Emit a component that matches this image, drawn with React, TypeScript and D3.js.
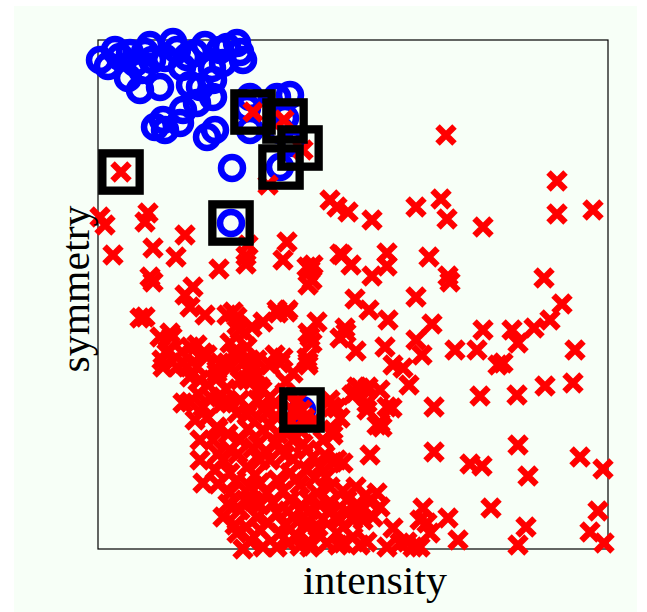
import React from "react";
import * as d3 from "d3";

// Axis domains (intensity → x, symmetry → y), arbitrary units
const intensityDomain: [number, number] = [0, 51];
const symmetryDomain: [number, number] = [0, 50.9];

const xLabel = "intensity";
const yLabel = "symmetry";

// Digit "1" samples (blue circles): [intensity, symmetry]
const onePoints: [number, number][] = [
  [0.2, 48.9], [1.0, 48.3], [2.2, 49.2], [3.2, 49.6], [3.7, 48.6], [3.0, 47.1], [4.2, 45.9],
  [4.7, 49.7], [5.4, 48.9], [6.2, 46.2], [7.5, 50.7], [7.9, 49.9], [6.7, 49.1], [8.9, 49.2],
  [9.7, 49.6], [8.4, 48.2], [9.2, 46.4], [10.2, 46.2], [11.5, 45.2], [11.5, 46.9], [11.4, 48.1],
  [12.2, 49.9], [13.9, 50.6], [12.9, 50.2], [14.5, 48.9], [12.5, 48.6], [8.5, 43.9], [5.7, 42.2],
  [6.7, 41.9], [8.2, 42.6], [10.9, 41.2], [11.7, 41.9], [9.9, 44.6], [6.5, 42.9], [15.2, 45.2],
  [17.9, 45.2], [19.2, 45.4], [15.2, 41.9], [18.2, 41.9], [19.5, 40.6], [18.2, 38.2], [13.4, 38.1],
  [13.3, 32.6], [20.4, 13.9], [14.9, 44.1], [18.7, 43.1], [1.7, 49.9], [5.2, 50.4], [10.7, 50.4],
  [14.2, 49.7], [4.4, 47.9],
];

// Other digits (red crosses): [intensity, symmetry]
const otherPoints: [number, number][] = [
  // upper right
  [34.8, 41.4], [45.9, 36.8], [45.9, 33.5], [49.5, 33.9], [23.2, 34.9], [25.0, 33.7], [27.4, 32.9],
  [31.8, 34.2], [34.3, 35.0], [34.9, 33.0], [38.5, 32.2], [24.2, 29.5], [25.3, 28.4], [28.9, 29.6],
  [28.9, 28.3], [27.4, 27.3], [33.1, 29.2], [35.0, 27.3], [35.2, 26.7], [44.6, 27.1], [46.4, 24.5],
  [25.7, 25.0], [27.1, 23.9], [29.0, 22.9], [31.8, 25.2], [33.4, 22.5], [24.7, 22.1], [38.5, 21.9],
  [41.4, 21.9], [43.6, 22.1], [45.2, 22.9],
  // lower right
  [24.8, 21.6], [25.8, 19.8], [28.7, 20.2], [31.8, 20.9], [32.4, 19.4], [29.5, 18.4], [30.5, 18.1],
  [31.1, 16.4], [35.7, 19.9], [37.9, 19.9], [42.0, 20.6], [40.0, 18.4], [40.5, 18.6], [47.7, 19.9],
  [47.5, 16.6], [44.7, 16.3], [41.9, 15.4], [38.2, 15.3], [33.6, 14.2], [29.4, 14.1], [26.9, 15.9],
  [25.7, 15.6], [23.9, 14.1], [26.9, 13.9], [28.4, 12.2], [23.5, 11.4], [27.2, 9.4], [24.5, 8.6],
  [33.6, 9.7], [37.2, 8.5], [38.4, 8.3], [42.0, 10.4], [43.0, 7.3], [48.2, 9.2], [50.5, 8.0],
  [39.3, 4.1], [42.8, 2.2], [42.0, 0.4], [50.0, 3.8], [49.2, 1.7], [50.6, 0.6], [27.9, 5.6],
  [27.2, 4.7], [25.9, 4.2], [25.0, 3.7], [26.5, 2.9], [32.5, 4.1], [32.2, 2.9], [35.0, 3.1],
  [36.0, 0.9], [33.2, 1.6], [30.9, 0.7], [29.5, 2.1], [28.9, 0.2], [32.2, 0.2], [26.9, 0.7],
  [24.5, 0.6], [23.7, 3.1], [32.9, 2.6], [30.2, 0.6], [31.5, 0.2], [21.2, 0.6], [23.2, 4.7],
  [25.7, 3.4], [23.5, 8.7],
  // middle
  [18.9, 30.7], [18.5, 28.9], [20.9, 28.2], [21.4, 26.9], [21.5, 28.4], [24.4, 29.4], [18.9, 23.7],
  [21.9, 22.7], [21.2, 21.2], [21.0, 18.7], [18.5, 19.1], [25.9, 16.2], [27.0, 16.2], [25.4, 15.4],
  [23.2, 14.9], [28.2, 12.6],
  // left
  [0.2, 33.2], [0.7, 32.4], [5.0, 33.6], [4.7, 32.7], [1.5, 29.4], [5.5, 30.1], [8.7, 31.4],
  [7.8, 29.2], [5.2, 27.2], [12.1, 28.0], [15.0, 30.4], [14.8, 29.3], [14.8, 28.5], [21.2, 27.9],
  [21.0, 26.4], [23.9, 34.2], [9.5, 26.2], [8.7, 25.4], [9.2, 24.2], [10.7, 23.4], [4.2, 23.1],
  [13.5, 23.7], [12.9, 23.4], [13.9, 22.4], [14.7, 21.6], [16.5, 22.7], [18.0, 23.6], [19.0, 23.9],
  [21.0, 21.6], [20.9, 19.1], [21.4, 20.6], [6.2, 21.2], [7.2, 21.6], [6.9, 19.6], [8.4, 19.7],
  [9.2, 20.2], [10.5, 19.6], [9.9, 18.2], [6.5, 18.2], [7.9, 18.2], [13.2, 20.6], [13.5, 19.6],
  [14.9, 20.2], [15.2, 18.9], [13.2, 18.1], [11.9, 17.9], [24.2, 21.1],
  [5.5, 26.7], [13.9, 23.2], [14.2, 21.9], [15.4, 22.2], [17.9, 23.9], [4.7, 23.2], [7.4, 21.2],
  [7.0, 19.9], [6.4, 18.9], [8.5, 18.6], [9.9, 20.4], [10.9, 19.4], [9.2, 17.2], [11.9, 17.6],
  [12.9, 18.6], [13.9, 19.6], [14.5, 18.6], [15.5, 17.2], [14.2, 16.9], [16.2, 16.2], [15.9, 18.9],
  [17.2, 18.4], [17.7, 19.4], [8.5, 14.6], [10.5, 14.2], [12.2, 15.2], [13.2, 14.6], [13.9, 13.6],
  [15.2, 13.9], [16.7, 14.2], [17.7, 14.6],
  // dense lower cluster
  [8.9, 18.2], [12.2, 18.6], [15.2, 18.2], [18.2, 18.6], [21.0, 18.4], [10.2, 16.9], [11.9, 17.1],
  [14.9, 16.9], [16.4, 15.9], [9.2, 14.7], [11.2, 15.2], [12.5, 14.6], [14.2, 14.9], [15.9, 14.9],
  [17.2, 15.2], [26.2, 16.1], [26.9, 14.6], [28.2, 15.9], [28.9, 14.2], [27.9, 12.4], [23.4, 14.2],
  [24.2, 13.1], [10.9, 13.1], [11.9, 12.2], [14.9, 13.4], [16.9, 13.6], [16.5, 11.9], [11.5, 10.9],
  [14.2, 10.9], [15.5, 10.1], [17.9, 10.6], [19.5, 10.9], [20.9, 9.9], [22.5, 10.9], [23.5, 11.9],
  [23.9, 8.9], [10.2, 8.9], [10.5, 6.6], [12.5, 8.9], [13.2, 7.6], [14.9, 8.2], [17.2, 8.9],
  [19.2, 7.6], [17.9, 6.9], [20.9, 7.9], [22.2, 8.2], [13.2, 5.6], [15.2, 6.2], [16.9, 5.6],
  [19.2, 4.9], [21.9, 5.6], [23.2, 6.2], [24.9, 4.9], [26.2, 4.2], [28.2, 4.2], [12.5, 3.2],
  [14.2, 3.9], [15.9, 3.2], [17.9, 3.6], [19.5, 3.2], [21.2, 3.9], [23.2, 3.9], [25.5, 2.9],
  [27.5, 3.2], [13.9, 1.6], [16.2, 1.9], [18.2, 1.6], [19.9, 1.2], [21.9, 1.6], [23.9, 1.6],
  [25.5, 1.2], [14.5, 0.0], [16.5, 0.2], [17.9, 0.2], [21.2, 0.2], [22.9, 0.6], [26.2, 0.4],
  [10.2, 10.9], [9.7, 12.9], [13.2, 9.9], [16.2, 8.9], [18.7, 9.4], [20.2, 11.9], [18.7, 12.4],
  [21.7, 12.9], [17.2, 12.4], [14.7, 4.9], [20.2, 6.4], [16.2, 4.4], [18.7, 2.4], [20.7, 2.4],
  [13.7, 2.4], [22.2, 4.4], [24.2, 2.9], [11.7, 7.9], [15.7, 7.4], [21.7, 7.1], [22.7, 9.4],
  [20.0, 14.9], [20.7, 13.1],
  [12.0, 12.0], [13.0, 11.5], [15.0, 12.0], [16.0, 10.5], [18.0, 11.5], [19.0, 12.5], [20.5, 10.5],
  [12.0, 9.5], [14.0, 9.5], [16.8, 9.8], [19.5, 9.0], [21.5, 9.2], [12.0, 6.5], [13.8, 6.8],
  [16.2, 6.6], [18.5, 5.8], [19.8, 7.0], [21.0, 5.0], [22.8, 7.2], [13.0, 4.5], [15.5, 4.8],
  [17.5, 4.6], [19.0, 3.8], [20.5, 4.2], [22.5, 3.0], [14.8, 2.2], [17.0, 2.6], [19.2, 2.0],
  [21.0, 2.8], [15.2, 0.8], [19.0, 0.6], [20.2, 0.3], [24.0, 0.4], [22.0, 2.2], [24.5, 5.8],
  [25.8, 6.2], [26.8, 5.4], [17.8, 13.3], [19.5, 13.8], [18.7, 15.6], [16.0, 17.4], [18.8, 16.7],
  [19.5, 17.6], [12.8, 16.0], [11.0, 16.4], [10.0, 15.5],
  // crosses inside / near flagged squares
  [15.5, 43.7], [18.6, 42.9], [20.5, 39.9], [2.3, 37.7], [17.0, 36.4], [20.4, 13.9],
];

// Flagged (misclassified) samples, boxed in black
const flaggedPoints: [number, number][] = [
  [15.5, 43.7], [18.7, 42.8], [20.2, 40.1], [18.3, 38.2], [2.3, 37.7], [13.3, 32.6], [20.4, 13.9],
];

const W = 647;
const H = 612;
const plot = { left: 98, right: 608, top: 40, bottom: 549 };

const BLUE = "#0000ff";
const RED = "#ff0000";
const BG = "#f7fff7";

export default function App() {
  const x = d3.scaleLinear().domain(intensityDomain).range([plot.left, plot.right]);
  const y = d3.scaleLinear().domain(symmetryDomain).range([plot.bottom, plot.top]);

  const h = 8.5;
  const crossPath = `M${-h},${-h}L${h},${h}M${-h},${h}L${h},${-h}`;
  const sq = 37.3;

  return (
    <svg
      width={W}
      height={H}
      style={{ position: "absolute", left: 0, top: 0, display: "block" }}
    >
      <rect x={0} y={0} width={W} height={H} fill="#ffffff" />
      <rect x={14} y={6} width={623} height={H - 6} fill={BG} />
      <rect
        x={plot.left}
        y={plot.top}
        width={plot.right - plot.left}
        height={plot.bottom - plot.top}
        fill="none"
        stroke="#000"
        strokeWidth={1.2}
      />
      <g>
        {onePoints.map((d, i) => (
          <circle
            key={"o" + i}
            cx={x(d[0])}
            cy={y(d[1])}
            r={11}
            fill="none"
            stroke={BLUE}
            strokeWidth={6.5}
          />
        ))}
      </g>
      <g>
        {otherPoints.map((d, i) => (
          <path
            key={"x" + i}
            d={crossPath}
            transform={`translate(${x(d[0])},${y(d[1])})`}
            fill="none"
            stroke={RED}
            strokeWidth={6.3}
          />
        ))}
      </g>
      <g>
        {flaggedPoints.map((d, i) => (
          <rect
            key={"s" + i}
            x={x(d[0]) - sq / 2}
            y={y(d[1]) - sq / 2}
            width={sq}
            height={sq}
            fill="none"
            stroke="#000"
            strokeWidth={8.3}
          />
        ))}
      </g>
      <text
        x={375}
        y={594}
        textAnchor="middle"
        fontFamily="'Liberation Serif', 'Times New Roman', serif"
        fontSize={40}
        textLength={144}
        lengthAdjust="spacingAndGlyphs"
        fill="#000"
      >
        {xLabel}
      </text>
      <text
        transform="translate(89,289) rotate(-90)"
        textAnchor="middle"
        fontFamily="'Liberation Serif', 'Times New Roman', serif"
        fontSize={40}
        textLength={167}
        lengthAdjust="spacingAndGlyphs"
        fill="#000"
      >
        {yLabel}
      </text>
    </svg>
  );
}
